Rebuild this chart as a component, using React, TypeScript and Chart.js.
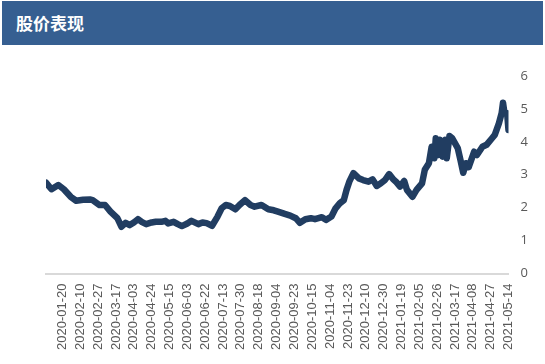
import React, { useEffect, useRef } from "react";
import { Chart, registerables } from "chart.js";

Chart.register(...registerables);

const TITLE = "股价表现";

// tick labels (every 13 trading days, starting at trading-day 12)
const tickLabels = [
  "2020-01-20", "2020-02-10", "2020-02-27", "2020-03-17", "2020-04-03", "2020-04-24",
  "2020-05-15", "2020-06-03", "2020-06-22", "2020-07-13", "2020-07-30", "2020-08-18",
  "2020-09-04", "2020-09-23", "2020-10-15", "2020-11-04", "2020-11-23", "2020-12-10",
  "2020-12-30", "2021-01-19", "2021-02-05", "2021-02-26", "2021-03-17", "2021-04-08",
  "2021-04-27", "2021-05-14",
];
const firstTickDay = 12;
const tickStep = 13;
const lastDay = 337;

// trading-day index and closing price
const priceDay = [
  0, 4, 9, 13, 18, 22, 27, 32, 34, 39, 43, 47, 52, 55, 58, 61, 64, 67, 70, 73, 77, 80, 84, 87, 89,
  93, 96, 99, 103, 106, 111, 114, 117, 121, 125, 128, 131, 134, 138, 141, 145, 149, 152, 157, 162,
  166, 169, 174, 178, 182, 185, 189, 193, 196, 201, 204, 208, 211, 214, 217, 219, 221, 224, 228,
  231, 235, 238, 241, 244, 247, 250, 253, 255, 258, 261, 263, 267, 270, 274, 276, 279, 281, 283,
  284, 286, 287, 289, 291, 292, 294, 296, 300, 302, 304, 306, 308, 312, 314, 318, 321, 325, 327,
  330, 332, 333, 334, 336, 337,
];
const priceValue = [
  2.76, 2.56, 2.69, 2.56, 2.33, 2.21, 2.24, 2.25, 2.23, 2.08, 2.08, 1.88, 1.68, 1.42, 1.54, 1.47,
  1.55, 1.65, 1.56, 1.5, 1.55, 1.57, 1.57, 1.6, 1.52, 1.57, 1.5, 1.44, 1.52, 1.6, 1.5, 1.55, 1.53,
  1.45, 1.73, 1.98, 2.08, 2.05, 1.95, 2.08, 2.23, 2.08, 2.03, 2.08, 1.95, 1.92, 1.88, 1.81, 1.76,
  1.68, 1.54, 1.65, 1.68, 1.65, 1.71, 1.63, 1.73, 1.98, 2.13, 2.23, 2.54, 2.79, 3.05, 2.89, 2.84,
  2.79, 2.86, 2.66, 2.74, 2.84, 3.02, 2.86, 2.79, 2.64, 2.81, 2.54, 2.33, 2.54, 2.74, 3.15, 3.35,
  3.85, 3.5, 4.11, 3.6, 4.06, 3.55, 4.06, 3.5, 4.18, 4.11, 3.81, 3.45, 3.06, 3.35, 3.23, 3.7, 3.6,
  3.85, 3.91, 4.11, 4.21, 4.56, 4.87, 5.19, 4.89, 4.87, 4.36,
];

const yMax = 6;

export default function App() {
  const ref = useRef<HTMLCanvasElement | null>(null);

  useEffect(() => {
    if (!ref.current) return;
    const tickValues = tickLabels.map((_, i) => firstTickDay + i * tickStep);
    const chart = new Chart(ref.current, {
      type: "line",
      data: {
        datasets: [
          {
            data: priceDay.map((d, i) => ({ x: d, y: priceValue[i] })),
            borderColor: "#213d61",
            borderWidth: 6.5,
            pointRadius: 0,
            tension: 0,
            borderJoinStyle: "round",
            borderCapStyle: "round",
            fill: false,
          },
        ],
      },
      options: {
        animation: false,
        responsive: false,
        maintainAspectRatio: false,
        layout: { padding: { left: 46, top: 30, right: 0, bottom: 0 } },
        plugins: { legend: { display: false }, tooltip: { enabled: false }, title: { display: false } },
        scales: {
          x: {
            type: "linear",
            min: 0,
            max: lastDay,
            grid: { display: false, drawTicks: false },
            border: { display: true, color: "#d9d9d9", width: 2 },
            afterBuildTicks: (axis: any) => {
              axis.ticks = tickValues.map((v) => ({ value: v }));
            },
            afterFit: (axis: any) => {
              axis.height = 90.5;
            },
            ticks: {
              autoSkip: false,
              maxRotation: 90,
              minRotation: 90,
              padding: 10,
              color: "#595959",
              font: { family: "'Liberation Sans', Arial, sans-serif", size: 13 },
              callback: (value: any) => {
                const idx = Math.round((Number(value) - firstTickDay) / tickStep);
                return tickLabels[idx] ?? "";
              },
            },
          },
          y: {
            position: "right",
            min: 0,
            max: yMax,
            grid: { display: false, drawTicks: false },
            border: { display: false },
            afterFit: (axis: any) => {
              axis.width = 36.5;
            },
            ticks: {
              stepSize: 1,
              padding: 12,
              color: "#595959",
              font: { family: "'Open Sans', 'Liberation Sans', sans-serif", size: 13 },
            },
          },
        },
      },
    });
    return () => chart.destroy();
  }, []);

  return (
    <div style={{ position: "absolute", left: 0, top: 0, width: 545, height: 364, background: "#ffffff" }}>
      <div
        style={{
          position: "absolute",
          left: 2,
          top: 1,
          width: 541,
          height: 44,
          background: "#365f91",
          color: "#ffffff",
          fontFamily: "'Noto Sans CJK SC', sans-serif",
          fontWeight: 700,
          fontSize: 17,
          lineHeight: "44px",
          paddingLeft: 14,
          boxSizing: "border-box",
        }}
      >
        {TITLE}
      </div>
      <canvas
        ref={ref}
        width={545}
        height={318}
        style={{ position: "absolute", left: 0, top: 46, width: 545, height: 318 }}
      />
    </div>
  );
}
